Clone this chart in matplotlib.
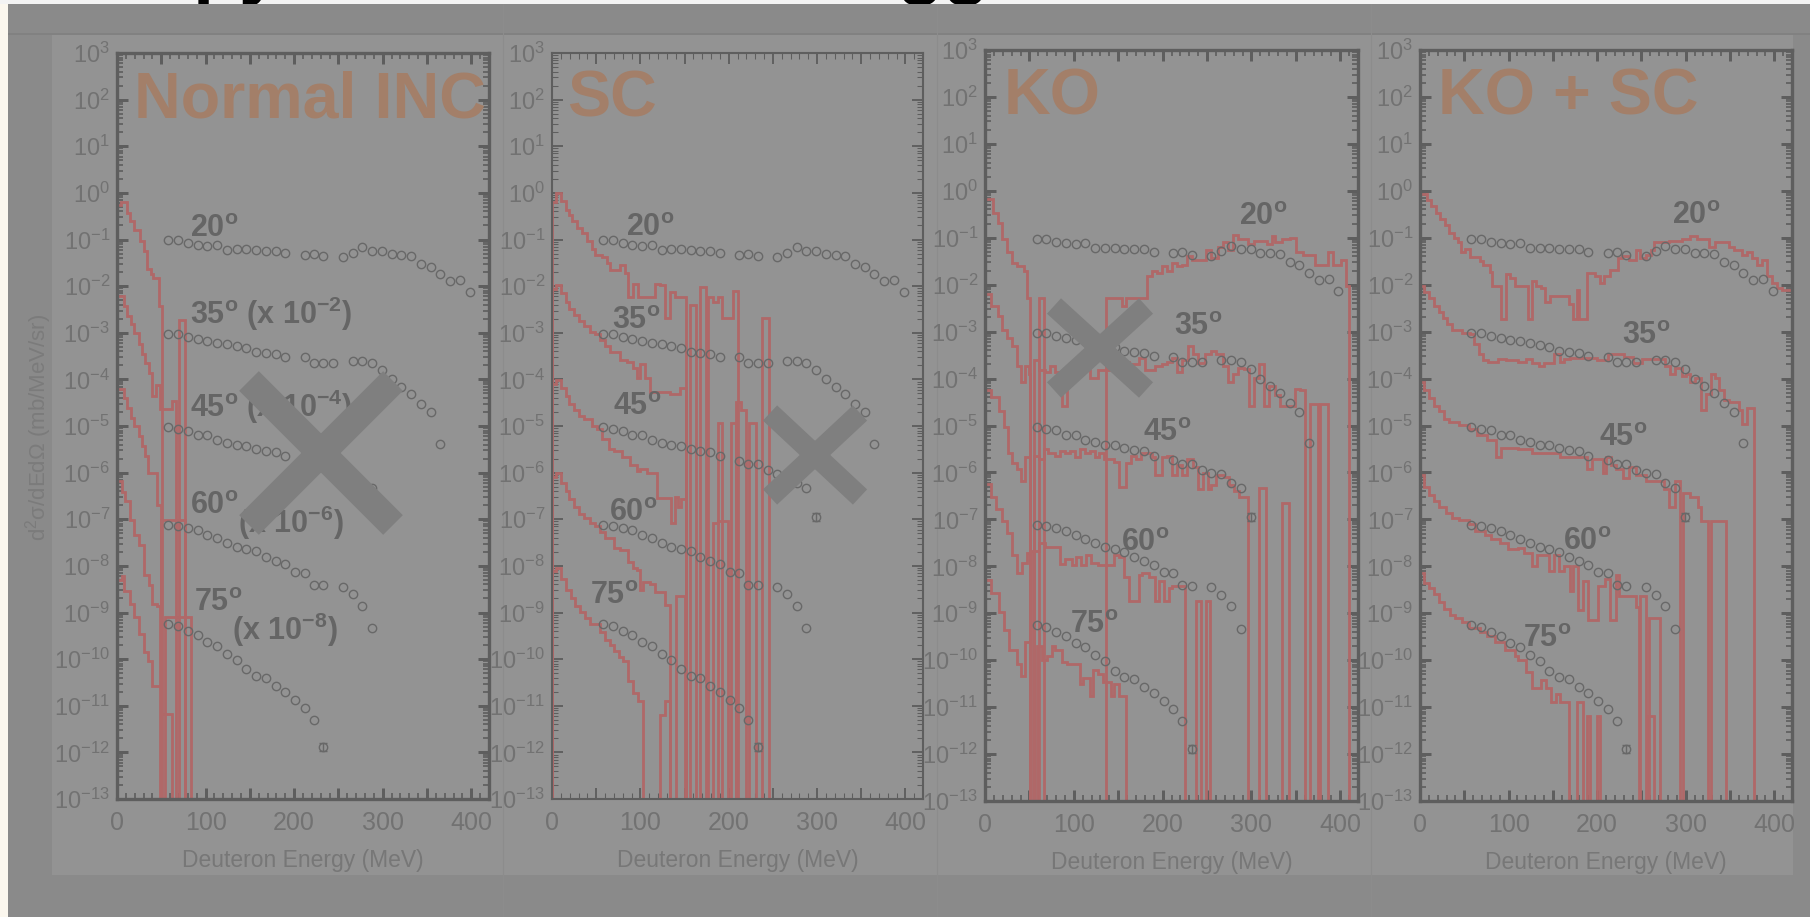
import numpy as np
import matplotlib.pyplot as plt
from matplotlib.lines import Line2D
from matplotlib.patches import Rectangle
from matplotlib.ticker import FixedLocator, MultipleLocator, FuncFormatter

# ---- experimental points (log10 of d2sigma/dEdOmega, already scaled) ----
exp_e_20 = [58, 69, 80, 91, 102, 113, 124, 135, 146, 157, 168, 179, 190, 212, 222, 233,
            255, 266, 277, 288, 299, 310, 321, 332, 343, 354, 365, 376, 387, 398]
exp_log_20 = [-1.02, -1.02, -1.08, -1.12, -1.13, -1.12, -1.22, -1.21, -1.21, -1.23, -1.24, -1.24,
              -1.30, -1.33, -1.31, -1.36, -1.38, -1.28, -1.17, -1.24, -1.25, -1.32, -1.33, -1.35,
              -1.52, -1.59, -1.75, -1.90, -1.87, -2.13]
exp_e_35 = [58, 69, 80, 91, 102, 113, 124, 135, 146, 157, 168, 179, 190, 212, 222, 233, 244,
            266, 277, 288, 299, 310, 321, 332, 343, 354, 365]
exp_log_35 = [-3.02, -3.03, -3.09, -3.13, -3.17, -3.21, -3.24, -3.29, -3.32, -3.41, -3.43, -3.46,
              -3.52, -3.53, -3.64, -3.64, -3.64, -3.60, -3.60, -3.64, -3.79, -4.00, -4.16, -4.31,
              -4.52, -4.71, -5.38]
exp_e_45 = [58, 69, 80, 91, 102, 113, 124, 135, 146, 157, 168, 179, 190, 212, 222, 233, 244,
            255, 266, 277, 288, 299]
exp_log_45 = [-5.03, -5.07, -5.10, -5.20, -5.20, -5.31, -5.36, -5.41, -5.42, -5.49, -5.53, -5.55,
              -5.64, -5.74, -5.82, -5.81, -5.94, -6.02, -6.03, -6.23, -6.34, -6.95]
exp_e_60 = [58, 69, 80, 91, 102, 113, 124, 135, 146, 157, 168, 179, 190, 201, 212, 222, 233,
            255, 266, 277, 288]
exp_log_60 = [-7.12, -7.14, -7.19, -7.24, -7.33, -7.41, -7.50, -7.59, -7.64, -7.69, -7.81, -7.89,
              -7.97, -8.13, -8.15, -8.40, -8.42, -8.45, -8.61, -8.85, -9.34]
exp_e_75 = [58, 69, 80, 91, 102, 113, 124, 135, 146, 157, 168, 179, 190, 201, 212, 222, 233]
exp_log_75 = [-9.25, -9.29, -9.39, -9.48, -9.64, -9.72, -9.89, -10.02, -10.22, -10.36, -10.41,
              -10.58, -10.70, -10.87, -11.05, -11.30, -11.89]

# ---- calculated histograms: bin edges (MeV) and log10 values (None = empty bin) ----
# Normal INC
inc_20_edges = [0, 4, 11, 15, 19, 26, 30, 34, 38, 41, 47, 51, 70, 77]
inc_20_log = [-0.27, -0.2, -0.43, -0.61, -0.79, -1.04, -1.25, -1.64, -1.75, -1.82, -2.43, None, -2.73]
inc_35_edges = [0, 7.5, 11.3, 15.8, 19.6, 24.5, 28.2, 32, 35.7, 39.5, 44.4, 48.2, 62, 67]
inc_35_log = [-2.21, -2.43, -2.64, -2.82, -3.0, -3.25, -3.46, -3.64, -3.86, -4.36, -4.11, -4.64, -4.46]
inc_45_edges = [0, 7.5, 11.3, 15.8, 19.6, 24.5, 28.2, 32, 35, 45.1, 50, 54.5, 83]
inc_45_log = [-4.2, -4.39, -4.61, -4.82, -5.0, -5.21, -5.43, -5.64, -6.0, -6.7, None, -9.1]
inc_60_edges = [0, 5.6, 9.4, 15, 18.8, 24.5, 30, 35.7, 39.5, 45, 49, 50, 77]
inc_60_log = [-6.18, -6.41, -6.6, -7.02, -7.34, -7.56, -8.2, -8.42, -8.81, -8.85, None, -7.02]
inc_75_edges = [0, 5.6, 8.3, 15, 18.8, 24.5, 30, 34.6, 39.5, 50, 62]
inc_75_log = [-8.31, -8.22, -8.53, -8.81, -9.1, -9.46, -9.85, -10.03, -10.57, -11.18]

# SC
sc_20_edges = [0, 4, 9.7, 15.4, 19.1, 22.8, 28.5, 34.1, 39.7, 45.3, 49.1, 56.6, 62.2, 65.9, 77.2,
               82.8, 86.5, 92.1, 97.8, 116.5, 122.1, 127.7, 133.3, 139, 152, 155.7, 163.2, 167,
               174.4, 176.4, 182, 187.6, 193, 204.5, 210, 238, 245.7]
sc_20_log = [-0.19, 0.0, -0.17, -0.36, -0.48, -0.61, -0.76, -0.87, -1.04, -1.21, -1.33, -1.38, -1.5,
             -1.65, -1.55, -1.72, -2.23, -1.95, -2.23, -1.95, -1.98, -2.69, -2.13, -2.23, None,
             -2.4, None, -2.01, None, -2.23, -2.33, -2.23, -2.69, -2.1, None, -2.69]
sc_35_edges = [0, 4.1, 9.7, 15.4, 19.1, 24.7, 30.3, 36, 43.4, 49.1, 54.7, 60.3, 65.9, 77.2, 84.6,
               92.1, 95.9, 99.6, 105.2, 110.9, 133.3, 144.6, 152, 208, 214, 219.5]
sc_35_log = [-2.07, -1.97, -2.14, -2.35, -2.48, -2.61, -2.75, -2.86, -2.99, -3.03, -3.16, -3.29,
             -3.42, -3.58, -3.63, -3.76, -3.97, -3.67, -3.97, -4.27, -4.31, -4.18, None, -4.48, -4.65]
sc_45_edges = [0, 4.1, 9.7, 15.4, 19.1, 24.7, 30.3, 36, 45.3, 50.9, 56.6, 64, 69.7, 79, 88.4, 95.9,
               99.6, 107.1, 118.4, 135.2, 139, 142.7, 146.4, 152, 187.6, 193, 202.6, 208.2, 223.2,
               230.7]
sc_45_log = [-4.1, -4.01, -4.18, -4.35, -4.52, -4.65, -4.78, -4.86, -4.99, -5.07, -5.28, -5.5, -5.54,
             -5.67, -5.84, -5.96, -5.92, -6.01, -6.54, -7.07, -6.52, -6.73, -6.56, None, -4.94, None,
             -4.94, None, -4.94]
sc_60_edges = [0, 4.1, 9.7, 15.4, 19.1, 24.7, 30.3, 36, 43.4, 49.1, 54.7, 60.3, 69.7, 77.2, 86.5,
               92.1, 95.9, 99.6, 103.4, 110.9, 116.5, 127.7, 133.3, 140.8, 150.2, 182, 187.6, 198.9]
sc_60_log = [-6.09, -6.01, -6.22, -6.39, -6.56, -6.73, -6.88, -6.97, -7.07, -7.14, -7.28, -7.41,
             -7.62, -7.66, -7.92, -8.05, -8.09, -8.51, -8.34, -8.39, -8.56, -8.84, None, -8.64, None,
             -7.07, -7.03]
sc_75_edges = [0, 4.1, 9.7, 15.4, 21, 26.6, 32.2, 37.8, 43.4, 54.7, 60.3, 65.9, 69.7, 75.3, 80.9,
               86.5, 92.1, 97.8, 103.4, 122.1, 127.7, 133.3]
sc_75_log = [-8.11, -8.05, -8.28, -8.51, -8.68, -8.85, -8.98, -9.11, -9.24, -9.41, -9.58, -9.7,
             -9.83, -9.96, -10.04, -10.47, -10.72, -10.89, None, -11.19, -10.89]

# KO
ko_20_edges = [0, 8.5, 14.1, 19.6, 25.2, 30.7, 36.3, 43.7, 47.4, 51.1, 60.4, 66.7, 136.3, 154.8,
               158.5, 182.6, 188.1, 193.7, 199.3, 204.8, 210.4, 215.9, 221.5, 227, 232.6, 249.3,
               254.8, 262.2, 267.8, 273.3, 278.9, 284.4, 295.6, 303, 317.8, 323.3, 327, 334.4,
               343.7, 350.4, 358.5, 371.5, 386.3, 391.9, 401.1, 406.7, 410.4]
ko_20_log = [-0.17, -0.47, -0.68, -1.02, -1.31, -1.53, -1.61, -1.71, -2.29, None, -2.29, None,
             -2.29, -2.46, -2.29, -1.82, -1.71, -1.76, -1.61, -1.71, -1.53, -1.61, -1.57, -1.38,
             -1.48, -1.27, -1.44, -1.19, -1.1, -1.27, -0.95, -1.02, -1.14, -1.06, -1.14, -0.96,
             -1.1, -1.02, -1.0, -1.31, -1.36, -1.59, -1.31, -1.57, -1.48, -2.03]
ko_35_edges = [0, 6.7, 14.1, 19.6, 25.2, 30.7, 36.3, 40, 45.6, 49.3, 51.1, 54.8, 60.4, 67.8, 73.3,
               78.9, 86.3, 91.9, 95.6, 110.4, 117.8, 127, 154.8, 162.2, 173.3, 180.7, 191.9, 199.3,
               204.8, 210.4, 215.9, 221.5, 228.9, 234.4, 240, 247.4, 254.8, 260.4, 267.8, 273.3,
               278.9, 284.4, 291.9, 297.4, 303, 308.5, 314.1, 319.6, 327, 332.6, 349.3, 354.8,
               360.4, 366, 375.2, 377, 386.3]
ko_35_log = [-2.19, -2.46, -2.67, -2.97, -3.14, -3.31, -3.73, -4.07, -3.73, -3.9, None, -3.6,
             -3.81, -3.86, -3.73, -3.86, -4.58, -3.98, -3.9, -3.81, -3.98, -3.81, -3.64, -3.69,
             -3.56, -3.81, -3.73, -3.69, -3.64, -3.56, -3.86, -3.6, -3.31, -3.47, -3.66, -3.47,
             -3.41, -3.47, -3.73, -4.07, -3.9, -3.77, -3.8, -4.58, -3.98, -3.69, -4.58, -4.15,
             -4.36, -4.58, -4.22, -4.24, None, -4.55, None, -4.55]
ko_45_edges = [0, 6.7, 15.9, 21.5, 25.9, 30.7, 36.3, 40.7, 45.6, 51.1, 54.8, 60.4, 65.9, 71.5, 78.9,
               84.4, 90, 95.6, 101.1, 106.7, 112.2, 117.8, 123.3, 128.9, 134.4, 145.6, 151.1, 158.5,
               164.1, 169.6, 175.2, 188.1, 191.9, 199.3, 204.8, 210.4, 215.9, 221.5, 227, 234.4,
               240, 245.6, 251.1, 254.8, 260.4, 269.6, 275.2, 280.7, 286.3, 295.6, 308.5, 315.9,
               334.4, 341.9]
ko_45_log = [-4.24, -4.39, -4.7, -5.04, -5.59, -5.8, -5.93, -6.19, -5.68, None, -5.64, -5.72,
             -5.51, -5.59, -5.64, -5.55, -5.59, -5.55, -5.68, -5.51, -5.59, -5.55, -5.68, -5.59,
             -5.72, -5.78, -6.31, -5.8, -5.64, -5.72, -5.59, -5.68, -6.06, -5.68, -5.64, -6.06,
             -5.85, -6.06, -5.72, -5.89, -6.36, -6.02, -6.36, -6.27, -6.06, -6.1, -6.27, -6.4,
             -6.53, None, -6.34, None, -6.65]
ko_60_edges = [0, 6.7, 12.2, 19.6, 25.2, 30.7, 36.3, 41.9, 47.4, 51.1, 52, 60.4, 67.8, 84.4, 90,
               97.4, 103, 108.5, 114.1, 119.6, 127, 145.6, 151.1, 156.7, 162.2, 173.3, 177, 184.4,
               191.9, 195.6, 201.1, 206.7, 210.4, 225.2, 238.1, 243.7, 249.3, 253]
ko_60_log = [-6.25, -6.53, -6.78, -7.03, -7.29, -7.75, -8.14, -7.92, -7.71, None, -7.67, -7.5,
             -7.58, -7.95, -7.84, -7.97, -7.8, -7.98, -7.75, -7.92, -7.97, -7.75, -7.8, -8.22,
             -8.73, -8.18, -8.14, -8.22, -8.73, -8.31, -8.73, -8.47, -8.43, None, -8.73, None, -8.73]
ko_75_edges = [0, 6.7, 15.9, 21.5, 27, 36.3, 40.7, 45.6, 51.1, 58.5, 64.1, 69.6, 75.2, 78.9, 86.3,
               91.9, 106.7, 110.4, 117.8, 121.5, 127, 132.6, 141.9, 145.6, 151.1, 158.5]
ko_75_log = [-8.3, -8.56, -8.98, -9.36, -9.79, -10.08, -10.34, -9.62, None, -9.7, -10.0, -9.92,
             -9.7, -9.79, -10.04, -10.08, -10.51, -10.38, -10.76, -10.21, -10.29, -10.46, -10.76,
             -10.51, -10.76]

# KO + SC
kosc_20_edges = [0, 7.4, 12.2, 17.8, 22.2, 28.1, 32.6, 38.1, 43, 46.7, 51.1, 56.7, 67.8, 71.5,
                 78.9, 81.5, 91.1, 97.4, 101.1, 106.7, 121.5, 126.3, 131.5, 136.3, 141.1, 146.7,
                 167.8, 173.3, 177, 179.6, 188.9, 197.4, 203, 207.8, 214.1, 223.3, 227.8, 236.3,
                 243.7, 248.5, 254.8, 260.4, 264.1, 269.6, 280.7, 295.6, 304.8, 312.2, 325.9,
                 332.6, 338.1, 349.3, 354.8, 364.1, 369.6, 375.2, 380.7, 386.3, 391.9, 397.4, 403,
                 408.5, 420]
kosc_20_log = [-0.07, -0.19, -0.32, -0.47, -0.59, -0.72, -0.89, -1.0, -1.08, -1.31, -1.25, -1.40,
               -1.5, -1.57, -1.74, -2.02, -2.73, -1.78, -1.86, -2.03, -2.73, -1.93, -2.02, -2.08,
               -2.37, -2.25, -2.42, -2.73, -2.12, -2.73, -1.75, -1.82, -1.97, -1.82, -1.68, -1.44,
               -1.38, -1.48, -1.27, -1.44, -1.36, -1.27, -1.08, -1.10, -1.06, -1.02, -0.96, -1.03,
               -1.20, -1.10, -1.08, -1.19, -1.27, -1.36, -1.31, -1.44, -1.57, -1.48, -1.82, -1.97,
               -2.08, -2.12]
kosc_35_edges = [0, 4.8, 10.4, 15.9, 21.5, 25.9, 30.7, 36.3, 47.4, 56.7, 61.5, 66.7, 71.5, 76.3,
                 88.1, 97.4, 110.4, 119.6, 127, 134.4, 140, 151.1, 158.5, 162.2, 169.6, 199.3,
                 212.2, 230.7, 240, 251.1, 277, 282.6, 288.1, 295.6, 300, 304.8, 310.4, 317.8,
                 323.3, 328.1, 332.6, 338.1, 343.7, 349.3, 360.4, 364.1, 369.6, 377]
kosc_35_log = [-2.03, -2.16, -2.29, -2.46, -2.58, -2.71, -2.84, -2.97, -3.03, -3.05, -3.26, -3.47,
               -3.6, -3.64, -3.58, -3.6, -3.64, -3.58, -3.66, -3.73, -3.66, -3.47, -3.64, -3.58,
               -3.56, -3.6, -3.47, -3.54, -3.66, -3.58, -3.73, -3.9, -3.77, -3.94, -3.9, -4.07,
               -3.98, -4.66, -4.32, -3.9, -3.98, -4.24, -4.45, -4.49, -4.66, -4.96, -4.62]
kosc_45_edges = [0, 4.8, 10.4, 15.9, 21.5, 27, 32.6, 43.7, 54.8, 64.1, 75.2, 86.3, 91.9, 110.4,
                 127, 158.5, 188.1, 193.7, 206.7, 210.4, 215.9, 221.5, 228.9, 236.3, 243.7, 254.8,
                 275.2, 280.7, 288.1, 293.7, 297.4, 304.8, 314.1, 317.8, 325.2, 328.9, 345.6]
kosc_45_log = [-4.07, -4.24, -4.41, -4.58, -4.7, -4.87, -4.93, -4.98, -5.08, -5.21, -5.3, -5.68,
               -5.47, -5.51, -5.59, -5.68, -5.93, -5.72, -6.02, -5.68, -5.85, -5.93, -6.12, -5.89,
               -6.06, -6.19, -6.36, -6.74, -6.19, None, -6.44, -6.53, -6.74, -7.03, None, -7.03]
kosc_60_edges = [0, 4.8, 10.4, 15.9, 21.5, 28.9, 36.3, 43.7, 54.8, 62.2, 73.3, 80.7, 90, 99.3,
                 110.4, 117.8, 127, 132.6, 145.6, 151.1, 156.7, 162.2, 169.6, 173.3, 178.9, 184.4,
                 190, 201.1, 208.5, 214.1, 221.5, 225.2, 243.7, 246.7, 248.5, 254.8, 258.5, 271.5]
kosc_60_log = [-6.06, -6.31, -6.48, -6.61, -6.74, -6.86, -6.97, -7.02, -7.1, -7.25, -7.33, -7.42,
               -7.5, -7.63, -7.6, -7.71, -8.0, -7.75, -8.09, -7.75, -8.09, -8.0, -8.52, -8.0,
               -8.94, -8.31, -9.14, -8.43, -8.26, -9.14, -8.18, -8.64, -8.86, None, -8.64, None,
               -9.11]
kosc_75_edges = [0, 4.8, 10.4, 15.9, 21.5, 27, 34.4, 40, 47.4, 54.8, 67.8, 75.2, 84.4, 95.6,
                 106.7, 110.4, 119.6, 127, 136.3, 141.9, 147.4, 153, 158.5, 167.8, 177, 184.4,
                 188.1, 191.9, 199.3, 203, 256.7, 264.1]
kosc_75_log = [-8.14, -8.35, -8.47, -8.6, -8.77, -8.9, -9.03, -9.11, -9.19, -9.32, -9.41, -9.49,
               -9.62, -9.79, -9.92, -10.0, -10.25, -10.59, -10.42, -10.59, -10.89, -10.72, -10.89,
               None, -10.89, None, -11.19, None, -11.19, None, -11.19]

# ---- annotations ----
panel_titles = ['Normal INC', 'SC', 'KO', 'KO + SC']
angles = ['20', '35', '45', '60', '75']
inc_label_pos = [(82, -0.71), (82, -2.57), (82, -4.57), (82, -6.66), (87, -8.74)]
sc_label_pos = [(84, -0.70), (68, -2.69), (69, -4.52), (65, -6.81), (43, -8.58)]
ko_label_pos = [(286, -0.49), (213, -2.84), (178, -5.10), (153, -7.44), (96, -9.19)]
kosc_label_pos = [(284, -0.47), (228, -3.03), (202, -5.21), (161, -7.42), (116, -9.49)]
inc_inline_scale = ['', ' (x 10$^{\\mathregular{-2}}$)', ' (x 10$^{\\mathregular{-4}}$)', '', '']
inc_extra_scale = [('(x 10$^{\\mathregular{-6}}$)', 137, -7.06), ('(x 10$^{\\mathregular{-8}}$)', 130, -9.35)]
# descenders of the slide title that peek into the white strip at the top
title_fragments = [('py', 193), ('gg', 897)]

# ---- layout (pixels) ----
W, H = 1810, 917
panel_boxes = [(117, 53, 489, 799), (552, 53, 923, 799), (985, 50, 1358, 801), (1420, 50, 1792, 801)]
panel_title_xy = [(0.046, 0.936), (0.041, 0.937), (0.049, 0.937), (0.049, 0.937)]
spine_widths = [2.4, 1.5, 2.4, 2.4]
cross_marks = [(321, 453, 72, 72, 20), (815, 455, 45, 42, 15), (1100, 348, 46, 42, 15)]

RED = '#b06868'
DATA = '#686868'
LABEL = '#656565'
TICK = '#727272'
TITLE = '#a37f69'

plt.rcParams['font.family'] = ['Liberation Sans', 'DejaVu Sans']

fig = plt.figure(figsize=(W / 100, H / 100), dpi=100)
fig.patch.set_facecolor('#8a8a8a')


def fx(x):
    return x / W


def fy(y):
    return 1 - y / H


def px_rect(x0, y0, x1, y1, color, z):
    fig.add_artist(Rectangle((fx(x0), fy(y1)), fx(x1) - fx(x0), fy(y0) - fy(y1),
                             transform=fig.transFigure, facecolor=color, edgecolor='none', zorder=z))


# slide background pieces
px_rect(0, 33, W, 35, '#818181', -6)
px_rect(52, 35, 1793, 875, '#939393', -6)
for sx in (503, 937, 1371):
    fig.add_artist(Line2D([fx(sx), fx(sx)], [0, fy(4)], transform=fig.transFigure,
                          color='#8c8c8c', lw=0.8, zorder=-5))
px_rect(0, 0, 8, H, '#fbf7ee', -4)

# thin white strip at the top, the title above it is cut away
strip = fig.add_axes([0, fy(4), 1, 4 / H])
strip.set_facecolor('#f3f3f3')
strip.set_xticks([])
strip.set_yticks([])
for s in strip.spines.values():
    s.set_visible(False)
for frag, fxpos in title_fragments:
    t = strip.text(fxpos / W, 3.5, frag, transform=strip.transAxes, fontsize=55,
                   fontweight='bold', color='black')
    t.set_clip_box(strip.bbox)
    t.set_clip_on(True)

hists = [
    [(inc_20_edges, inc_20_log), (inc_35_edges, inc_35_log), (inc_45_edges, inc_45_log),
     (inc_60_edges, inc_60_log), (inc_75_edges, inc_75_log)],
    [(sc_20_edges, sc_20_log), (sc_35_edges, sc_35_log), (sc_45_edges, sc_45_log),
     (sc_60_edges, sc_60_log), (sc_75_edges, sc_75_log)],
    [(ko_20_edges, ko_20_log), (ko_35_edges, ko_35_log), (ko_45_edges, ko_45_log),
     (ko_60_edges, ko_60_log), (ko_75_edges, ko_75_log)],
    [(kosc_20_edges, kosc_20_log), (kosc_35_edges, kosc_35_log), (kosc_45_edges, kosc_45_log),
     (kosc_60_edges, kosc_60_log), (kosc_75_edges, kosc_75_log)],
]
exp_sets = [(exp_e_20, exp_log_20), (exp_e_35, exp_log_35), (exp_e_45, exp_log_45),
            (exp_e_60, exp_log_60), (exp_e_75, exp_log_75)]
label_sets = [inc_label_pos, sc_label_pos, ko_label_pos, kosc_label_pos]


def log_fmt(v, pos):
    return r'$\mathregular{10^{%d}}$' % int(round(np.log10(v)))


def x_fmt(v, pos):
    return '%d' % v if int(round(v)) % 100 == 0 else ''


for i, (l, t, r, b) in enumerate(panel_boxes):
    ax = fig.add_axes([fx(l), fy(b), fx(r) - fx(l), (b - t) / H])
    ax.set_facecolor('none')
    ax.set_yscale('log')

    for edges, logs in hists[i]:
        vals = [10.0 ** v if v is not None else 1e-30 for v in logs]
        ax.stairs(vals, edges, baseline=1e-30, color=RED, lw=2.0, zorder=2)

    for e, lg in exp_sets:
        ax.plot(e, 10.0 ** np.array(lg), ls='none', marker='o', ms=6.0, mfc='none',
                mec=DATA, mew=1.0, zorder=3)
    # error bars on the last points of 45 and 75 deg
    for e, lg in (exp_sets[2], exp_sets[4]):
        yv = 10.0 ** lg[-1]
        ax.errorbar([e[-1]], [yv], yerr=[[yv * (1 - 10 ** -0.09)], [yv * (10 ** 0.09 - 1)]],
                    fmt='none', ecolor=DATA, elinewidth=1.0, capsize=3, capthick=1.0, zorder=3)

    for k, (ex, ey) in enumerate(label_sets[i]):
        txt = angles[k] + '$^{\\mathregular{o}}$'
        if i == 0:
            txt += inc_inline_scale[k]
        ax.text(ex, 10.0 ** (ey - 0.235), txt, fontsize=22, fontweight='bold', color=LABEL,
                ha='left', va='baseline', zorder=4)
    if i == 0:
        for txt, ex, ey in inc_extra_scale:
            ax.text(ex, 10.0 ** (ey - 0.235), txt, fontsize=22, fontweight='bold', color=LABEL,
                    ha='left', va='baseline', zorder=4)

    tx, ty = panel_title_xy[i]
    ax.text(tx, ty, panel_titles[i], transform=ax.transAxes, fontsize=46.5, fontweight='bold',
            color=TITLE, ha='left', va='center', zorder=4)

    ax.set_xlim(0, 420)
    ax.set_ylim(1e-13, 1e3)
    ax.yaxis.set_major_locator(FixedLocator([10.0 ** k for k in range(-13, 4)]))
    ax.yaxis.set_minor_locator(FixedLocator([m * 10.0 ** k for k in range(-13, 3) for m in range(2, 10)]))
    ax.yaxis.set_major_formatter(FuncFormatter(log_fmt))
    ax.xaxis.set_major_locator(FixedLocator(list(range(0, 401, 50))))
    ax.xaxis.set_minor_locator(MultipleLocator(10))
    ax.xaxis.set_major_formatter(FuncFormatter(x_fmt))

    sw = spine_widths[i]
    for s in ax.spines.values():
        s.set_color('#5e5e5e')
        s.set_linewidth(sw)
    ax.tick_params(which='both', direction='in', top=True, right=True, color='#5e5e5e',
                   labelcolor=TICK)
    ax.tick_params(axis='y', labelsize=17, pad=5)
    ax.tick_params(axis='x', labelsize=18, pad=9)
    ax.tick_params(which='major', length=8, width=sw * 0.9)
    ax.tick_params(which='minor', length=4, width=sw * 0.5)
    ax.set_xlabel('Deuteron Energy (MeV)', fontsize=16.5, color='#777777', labelpad=10)

fig.text(fx(39), fy(427), 'd$^{\\mathregular{2}}$σ/dEdΩ (mb/MeV/sr)', rotation=90,
         ha='center', va='center', fontsize=16, color='#7b7b7b')

for cx, cy, hx, hy, lw in cross_marks:
    for sgn in (1, -1):
        fig.add_artist(Line2D([fx(cx - hx), fx(cx + hx)], [fy(cy - sgn * hy), fy(cy + sgn * hy)],
                              transform=fig.transFigure, color='#7f7f7f', lw=lw,
                              solid_capstyle='butt', zorder=10))

fig.savefig('out.png', dpi=100, facecolor=fig.get_facecolor())
